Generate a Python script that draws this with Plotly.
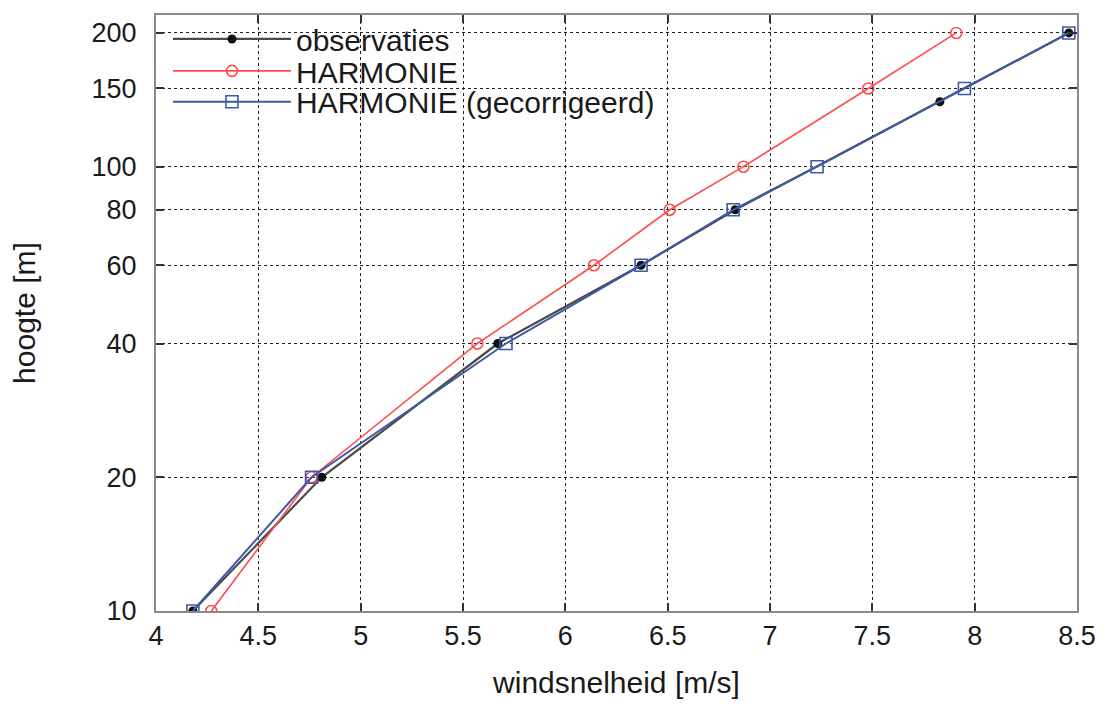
import plotly.graph_objects as go

obs_h = [10, 20, 40, 60, 80, 140, 200]
obs_v = [4.18, 4.81, 5.67, 6.37, 6.83, 7.83, 8.46]

harm_h = [10, 20, 40, 60, 80, 100, 150, 200]
harm_v = [4.27, 4.76, 5.57, 6.14, 6.51, 6.87, 7.48, 7.91]

corr_h = [10, 20, 40, 60, 80, 100, 150, 200]
corr_v = [4.18, 4.76, 5.71, 6.37, 6.82, 7.23, 7.95, 8.46]

y_ticks = [10, 20, 40, 60, 80, 100, 150, 200]

FONT = "Liberation Sans, Arial, sans-serif"
TXT = "#1a1a1a"

fig = go.Figure()
fig.add_trace(go.Scatter(x=obs_v, y=obs_h, name="observaties", mode="lines+markers",
                         legend="legend",
                         line=dict(color="#4a4a4a", width=2.2),
                         marker=dict(symbol="circle", size=9, color="#111111")))
fig.add_trace(go.Scatter(x=harm_v, y=harm_h, name="HARMONIE", mode="lines+markers",
                         legend="legend2",
                         line=dict(color="#ff4d4d", width=1.6),
                         marker=dict(symbol="circle-open", size=11, color="#ff4d4d",
                                     line=dict(width=1.6))))
fig.add_trace(go.Scatter(x=corr_v, y=corr_h, name="HARMONIE (gecorrigeerd)", mode="lines+markers",
                         legend="legend3",
                         line=dict(color="#3d5aa8", width=2),
                         marker=dict(symbol="square-open", size=12, color="#3d5aa8",
                                     line=dict(width=1.6))))

axis_common = dict(
    showline=True, linecolor="#8a8a8a", linewidth=2, mirror="ticks",
    ticks="inside", ticklen=8, tickwidth=1.5, tickcolor="#333333",
    showgrid=True, gridcolor="#222222", gridwidth=1, griddash="dot",
    zeroline=False, automargin=False,
    tickfont=dict(family=FONT, size=27, color=TXT),
)

fig.update_xaxes(range=[4, 8.5], dtick=0.5, tick0=4,
                 title=dict(text="windsnelheid [m/s]", font=dict(family=FONT, size=30, color=TXT),
                            standoff=25),
                 **axis_common)
fig.update_yaxes(type="log", range=[1, 2.3414], tickvals=y_ticks, ticktext=[str(v) for v in y_ticks],
                 ticklabelstandoff=12,
                 title=dict(text="hoogte [m]", font=dict(family=FONT, size=30, color=TXT),
                            standoff=50),
                 **axis_common)

# white backdrop behind the key (above grid, below data)
fig.add_shape(type="rect", xref="paper", yref="paper", x0=0, x1=0.623, y0=0.8127, y1=1,
              fillcolor="white", line=dict(width=0), layer="between")

leg_common = dict(x=0.013, xanchor="left", yanchor="middle",
                  bgcolor="rgba(0,0,0,0)", borderwidth=0,
                  font=dict(family=FONT, size=30, color=TXT),
                  itemwidth=118, tracegroupgap=0)

fig.update_layout(
    width=1091, height=691,
    margin=dict(l=148, r=22, t=5, b=88),
    paper_bgcolor="white", plot_bgcolor="white",
    font=dict(family=FONT, size=27, color=TXT),
    legend=dict(y=0.9598, **leg_common),
    legend2=dict(y=0.9063, **leg_common),
    legend3=dict(y=0.8545, **leg_common),
    showlegend=True,
)

fig.write_html("out.html")
